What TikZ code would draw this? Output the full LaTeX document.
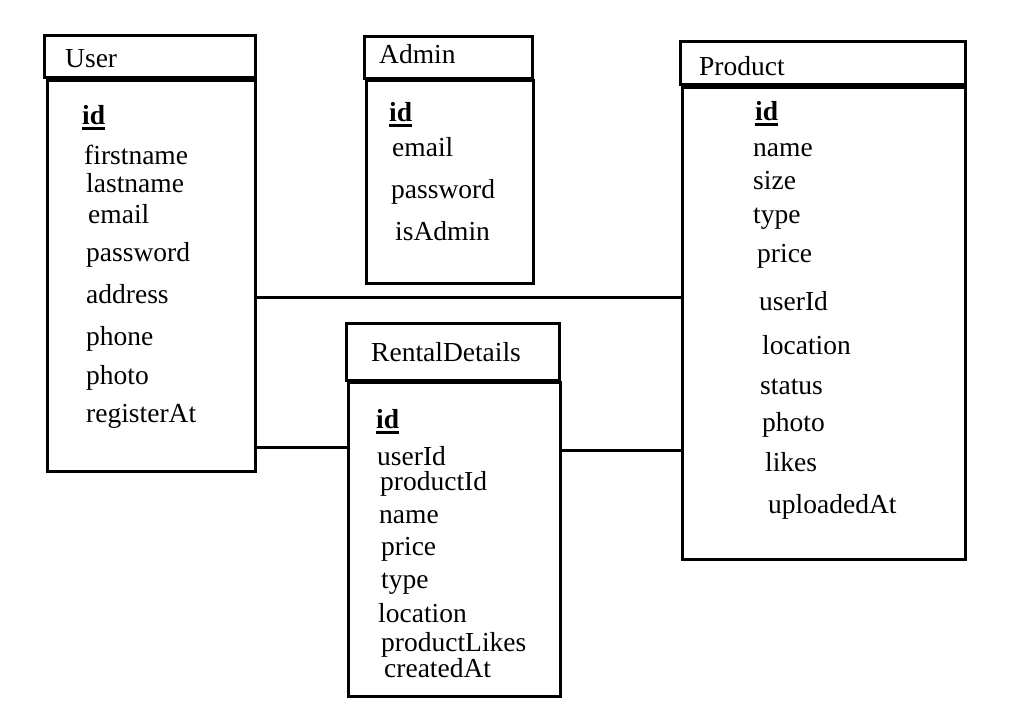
\documentclass[tikz,border=0pt]{standalone}
\usepackage{fontspec}
\setmainfont{Liberation Serif}
\newcommand\pkey[1]{\setbox0\hbox{\textbf{#1}}\rlap{\rule[-5.5pt]{\wd0}{2.6pt}}\box0}
\begin{document}
\begin{tikzpicture}[x=1pt,y=-1pt,
  ent/.style={draw,line width=3pt,inner sep=0pt,outer sep=0pt},
  fld/.style={anchor=base west,inner sep=0pt,font=\fontsize{27.5}{32}\selectfont},
  conn/.style={line width=3pt}]
\useasboundingbox (0,0) rectangle (1023,720);
% User
\node[ent,minimum width=211pt,minimum height=42pt] (userT) at (150,56.5) {};
\node[ent,minimum width=208pt,minimum height=391pt] (userB) at (151.5,276) {};
\node[fld] (uT) at (65,67.5) {User};
\node[fld] (u1) at (82,124) {\pkey{id}};
\node[fld] (u2) at (84,164) {firstname};
\node[fld] (u3) at (86,192) {lastname};
\node[fld] (u4) at (88,223) {email};
\node[fld] (u5) at (86,261) {password};
\node[fld] (u6) at (86,303) {address};
\node[fld] (u7) at (86,345) {phone};
\node[fld] (u8) at (86,384) {photo};
\node[fld] (u9) at (86,422) {registerAt};
% Admin
\node[ent,minimum width=168pt,minimum height=42pt] (admT) at (448.5,57.5) {};
\node[ent,minimum width=167pt,minimum height=203.5pt] (admB) at (449.5,182) {};
\node[fld] (aT) at (379,63) {Admin};
\node[fld] (a1) at (389,121) {\pkey{id}};
\node[fld] (a2) at (392,156) {email};
\node[fld] (a3) at (391,198) {password};
\node[fld] (a4) at (395,240) {isAdmin};
% Product
\node[ent,minimum width=285pt,minimum height=42.5pt] (prdT) at (823,62.75) {};
\node[ent,minimum width=282.5pt,minimum height=472pt] (prdB) at (823.75,323) {};
\node[fld] (pT) at (699,75) {Product};
\node[fld] (p1) at (755,120) {\pkey{id}};
\node[fld] (p2) at (753,156.5) {name};
\node[fld] (p3) at (753,189) {size};
\node[fld] (p4) at (753,223) {type};
\node[fld] (p5) at (757,262) {price};
\node[fld] (p6) at (759,310) {userId};
\node[fld] (p7) at (762,354) {location};
\node[fld] (p8) at (760,394) {status};
\node[fld] (p9) at (762,431) {photo};
\node[fld] (p10) at (765,471) {likes};
\node[fld] (p11) at (768,513) {uploadedAt};
% RentalDetails
\node[ent,minimum width=212.5pt,minimum height=56.5pt] (renT) at (452.75,351.75) {};
\node[ent,minimum width=211.5pt,minimum height=314.5pt] (renB) at (454.25,539.25) {};
\node[fld] (rT) at (371,361.5) {RentalDetails};
\node[fld] (r1) at (376,428) {\pkey{id}};
\node[fld] (r2) at (377,465) {userId};
\node[fld] (r3) at (380,490) {productId};
\node[fld] (r4) at (379,523) {name};
\node[fld] (r5) at (381,555) {price};
\node[fld] (r6) at (381,588) {type};
\node[fld] (r7) at (378,622) {location};
\node[fld] (r8) at (381,651) {productLikes};
\node[fld] (r9) at (384,677) {createdAt};
% connectors
\draw[conn] (userB.east |- {(0,297)}) -- (prdB.west |- {(0,297)});
\draw[conn] (userB.east |- {(0,447)}) -- (renB.west |- {(0,447)});
\draw[conn] (renB.east |- {(0,450)}) -- (prdB.west |- {(0,450)});
\end{tikzpicture}
\end{document}
